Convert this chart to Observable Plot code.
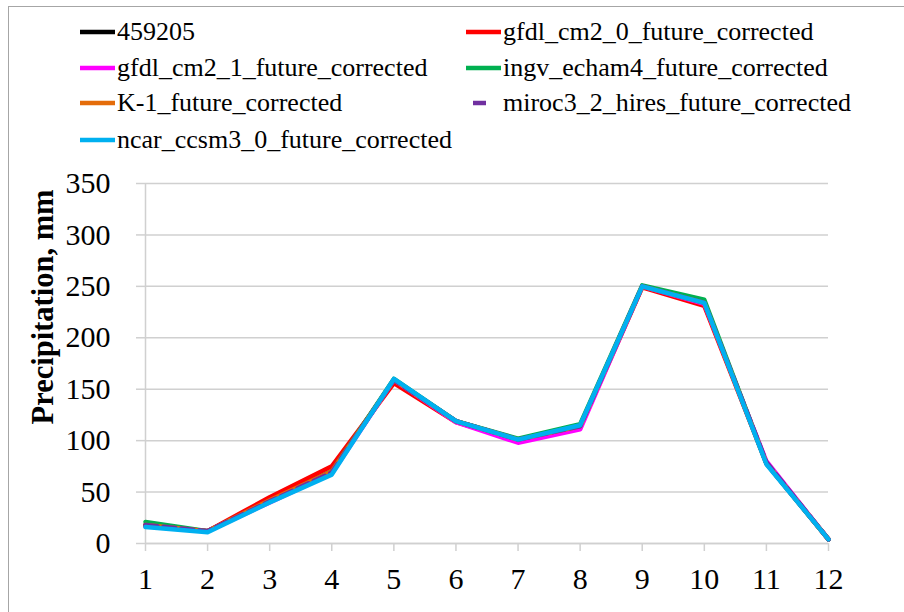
<!DOCTYPE html>
<html>
<head>
<meta charset="utf-8">
<script src="https://cdn.jsdelivr.net/npm/d3@7"></script>
<script src="https://cdn.jsdelivr.net/npm/@observablehq/plot@0.6"></script>
<style>
  html, body { margin: 0; padding: 0; background: #fff; }
  #wrap { position: relative; width: 904px; height: 612px; overflow: hidden; font-family: "Liberation Serif", serif; }
  #frame { position: absolute; left: 8px; top: 6px; width: 920px; height: 700px; border-left: 1.5px solid #a6a6a6; border-top: 1.5px solid #a6a6a6; }
  #chart { position: absolute; left: 0; top: 0; }
  #chart svg text { font-family: "Liberation Serif", serif !important; }
  .leg { position: absolute; display: flex; align-items: center; font-family: "Liberation Serif", serif; font-size: 26px; color: #000; white-space: nowrap; line-height: 1; }
  .leg svg { margin-right: 2px; }
  #ylab { position: absolute; left: 43px; top: 307px; transform: translate(-50%, -50%) rotate(-90deg); font-family: "Liberation Serif", serif; font-size: 30.5px; font-weight: bold; white-space: nowrap; }
</style>
</head>
<body>
<div id="wrap">
  <div id="frame"></div>
  <div id="chart"></div>
  <div id="legend"></div>
  <div id="ylab">Precipitation, mm</div>
</div>
<script>
const months = [1, 2, 3, 4, 5, 6, 7, 8, 9, 10, 11, 12];
const seriesNames = [
  "459205",
  "gfdl_cm2_0_future_corrected",
  "gfdl_cm2_1_future_corrected",
  "ingv_echam4_future_corrected",
  "K-1_future_corrected",
  "miroc3_2_hires_future_corrected",
  "ncar_ccsm3_0_future_corrected"
];
const seriesColors = ["#000000", "#ff0000", "#ff00ff", "#00b050", "#e46c0a", "#7030a0", "#00b0f0"];
const obs459205 = [18, 12, 42, 70, 159, 119, 101, 114, 250, 234, 78, 4];
const gfdlCm20 = [17, 12, 45, 75, 156, 118, 100, 113, 249, 231, 78, 4];
const gfdlCm21 = [17, 12, 40, 68, 159, 118, 98, 111, 250, 233, 80, 4];
const ingvEcham4 = [21, 12, 41, 70, 160, 119, 102, 116, 251, 237, 78, 4];
const k1 = [18, 12, 42, 70, 159, 119, 101, 114, 250, 234, 78, 4];
const miroc32Hires = [18, 12, 41, 69, 159, 119, 101, 114, 250, 234, 79, 4];
const ncarCcsm30 = [16, 11, 40, 67, 160, 119, 101, 115, 250, 234, 77, 4];
const yTicks = [0, 50, 100, 150, 200, 250, 300, 350];

const seriesValues = [obs459205, gfdlCm20, gfdlCm21, ingvEcham4, k1, miroc32Hires, ncarCcsm30];
const data = [];
seriesNames.forEach((name, i) => {
  months.forEach((m, j) => data.push({series: name, month: m, value: seriesValues[i][j]}));
});

const gridColor = "#d0d0d0";
const chart = Plot.plot({
  width: 904,
  height: 612,
  marginLeft: 145,
  marginRight: 76,
  marginTop: 183,
  marginBottom: 69,
  style: {fontFamily: "Liberation Serif, serif", fontSize: "30px", color: "#000", background: "transparent"},
  x: {type: "linear", domain: [1, 12]},
  y: {domain: [0, 350]},
  color: {domain: seriesNames, range: seriesColors},
  marks: [
    Plot.gridY(yTicks, {stroke: gridColor, strokeOpacity: 1, strokeWidth: 1.5}),
    Plot.axisY(yTicks, {tickSize: 9, tickPadding: 26, stroke: gridColor, strokeOpacity: 1, strokeWidth: 1.5, label: null, fontSize: 30, fill: "#000"}),
    Plot.axisX(months, {tickSize: 8, tickPadding: 16, stroke: gridColor, strokeOpacity: 1, strokeWidth: 1.5, label: null, fontSize: 30, fill: "#000"}),
    Plot.ruleY([0], {stroke: gridColor, strokeWidth: 1.5}),
    Plot.ruleX([1], {y1: 0, y2: 350, stroke: gridColor, strokeWidth: 1.5}),
    ...seriesNames.map((name, i) =>
      Plot.line(data.filter(d => d.series === name), {
        x: "month", y: "value", stroke: "series", strokeWidth: 4.5,
        strokeDasharray: name.startsWith("miroc") ? "12,6" : null
      })
    )
  ]
});
document.getElementById("chart").appendChild(chart);

// Legend (two columns)
const legendPos = [
  [80, 32], [466, 32],
  [80, 68], [466, 68],
  [80, 103], [466, 103],
  [80, 140]
];
const legend = document.getElementById("legend");
seriesNames.forEach((name, i) => {
  const item = document.createElement("div");
  item.className = "leg";
  item.style.left = legendPos[i][0] + "px";
  item.style.top = (legendPos[i][1] - 14) + "px";
  item.style.height = "28px";
  const dashed = name.startsWith("miroc");
  item.innerHTML = `<svg width="35" height="8"><line x1="${dashed ? 7 : 0}" x2="${dashed ? 20 : 35}" y1="4" y2="4" stroke="${seriesColors[i]}" stroke-width="4.5"/></svg><span>${name}</span>`;
  legend.appendChild(item);
});
</script>
</body>
</html>
